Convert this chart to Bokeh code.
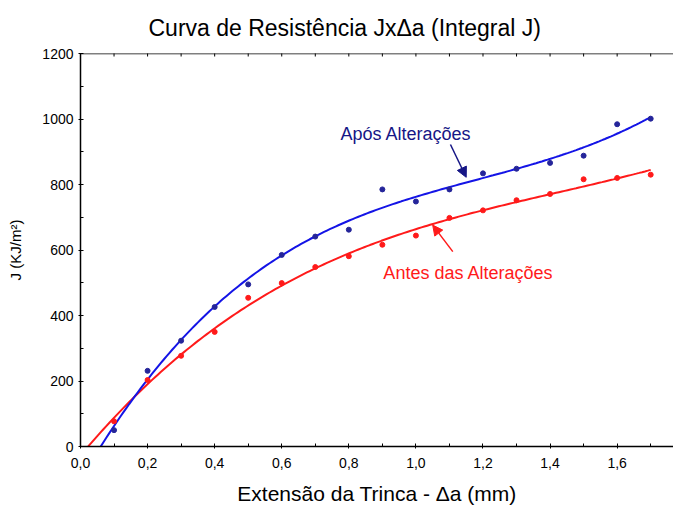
import numpy as np
from bokeh.plotting import figure
from bokeh.models import (Range1d, FixedTicker, LinearAxis, CustomJSTickFormatter,
                          Label, Arrow, NormalHead, Span)
from bokeh.embed import file_html
from bokeh.resources import INLINE

# ---- data ----
delta_a = [0.1, 0.2, 0.3, 0.4, 0.5, 0.6, 0.7, 0.8, 0.9, 1.0, 1.1, 1.2, 1.3, 1.4, 1.5, 1.6, 1.7]
j_apos = [50, 231, 323, 426, 495, 585, 641, 662, 785, 748, 785, 834, 848, 866, 888, 984, 1001]
j_antes = [77, 203, 277, 350, 454, 499, 548, 581, 616, 644, 698, 721, 752, 771, 816, 820, 830]

x_ticks = [0.0, 0.2, 0.4, 0.6, 0.8, 1.0, 1.2, 1.4, 1.6]
x_minor = [0.1, 0.3, 0.5, 0.7, 0.9, 1.1, 1.3, 1.5, 1.7]
y_ticks = [0, 200, 400, 600, 800, 1000, 1200]
y_minor = [100, 300, 500, 700, 900, 1100]
y_max = 1200

title_text = "Curva de Resistência JxΔa (Integral J)"
x_label = "Extensão da Trinca - Δa (mm)"
y_label = "J (KJ/m²)"
label_apos = "Após Alterações"
label_antes = "Antes das Alterações"

BLUE_LINE = "#1414e6"
BLUE_PT = "#25259a"
NAVY = "#161686"
RED = "#ff1a1a"
FONT = "Liberation Sans"

p = figure(width=673, height=508, output_backend="svg", toolbar_location=None,
           x_range=Range1d(0, 1.768), y_range=Range1d(0, y_max),
           min_border_left=80, min_border_right=0, min_border_top=52, min_border_bottom=62,
           x_axis_type=None, y_axis_type=None)
p.grid.visible = False
p.outline_line_color = None
p.background_fill_color = "white"
p.border_fill_color = "white"

p.title.text = title_text
p.title.align = "left"
p.title.offset = 68
p.title.text_font = FONT
p.title.text_font_size = "23px"
p.title.text_font_style = "normal"
p.title.text_color = "black"
p.title.standoff = 25

fmt = CustomJSTickFormatter(code="return tick.toFixed(1).replace('.', ',');")

def style_axis(ax):
    ax.major_tick_in = 3
    ax.major_tick_out = 2
    ax.minor_tick_in = 3
    ax.minor_tick_out = 0
    ax.axis_line_width = 1.5
    ax.axis_line_color = "black"
    ax.major_tick_line_color = "black"
    ax.minor_tick_line_color = "black"
    ax.major_label_text_font = FONT
    ax.major_label_text_font_size = "14px"
    ax.major_label_text_color = "black"
    ax.axis_label_text_font = FONT
    ax.axis_label_text_font_style = "normal"
    ax.axis_label_text_color = "black"

xb = LinearAxis(ticker=FixedTicker(ticks=x_ticks, minor_ticks=x_minor), formatter=fmt,
                axis_label=x_label)
style_axis(xb)
xb.major_label_standoff = 9
xb.axis_label_text_font_size = "21px"
xb.axis_label_standoff = 11
p.add_layout(xb, "below")

yl = LinearAxis(ticker=FixedTicker(ticks=y_ticks, minor_ticks=y_minor), axis_label=y_label)
style_axis(yl)
yl.major_label_standoff = 5
yl.axis_label_text_font_size = "15px"
yl.axis_label_standoff = 15
p.add_layout(yl, "left")

# top border line with inward ticks
p.add_layout(Span(location=y_max, dimension="width", line_color="black", line_width=1.5))
top_ticks = x_ticks + x_minor
p.scatter(top_ticks, [y_max] * len(top_ticks), marker="dash", angle=np.pi / 2,
          size=6, line_color="black", line_width=1)

# ---- fitted curves (least squares cubic through the data) ----
xs = np.linspace(0.0, 1.7, 200)
fit_apos = np.polyval(np.polyfit(delta_a, j_apos, 3), xs)
fit_antes = np.polyval(np.polyfit(delta_a, j_antes, 3), xs)

p.line(xs, fit_antes, line_color=RED, line_width=2)
p.line(xs, fit_apos, line_color=BLUE_LINE, line_width=2)
p.scatter(delta_a, j_antes, size=5, color=RED)
p.scatter(delta_a, j_apos, size=5, color=BLUE_PT)

# ---- annotations ----
p.add_layout(Label(x=0.775, y=953, text=label_apos, text_font=FONT, text_font_size="18px",
                   text_color=NAVY, text_baseline="middle"))
p.add_layout(Arrow(x_start=1.103, y_start=922, x_end=1.150, y_end=822,
                   line_color=NAVY, line_width=1.5,
                   end=NormalHead(size=10, fill_color=NAVY, line_color=NAVY)))
p.add_layout(Label(x=0.903, y=530, text=label_antes, text_font=FONT, text_font_size="18px",
                   text_color=RED, text_baseline="middle"))
p.add_layout(Arrow(x_start=1.110, y_start=595, x_end=1.050, y_end=676,
                   line_color=RED, line_width=1.5,
                   end=NormalHead(size=10, fill_color=RED, line_color=RED)))

open("out.html", "w").write(file_html(p, INLINE))
